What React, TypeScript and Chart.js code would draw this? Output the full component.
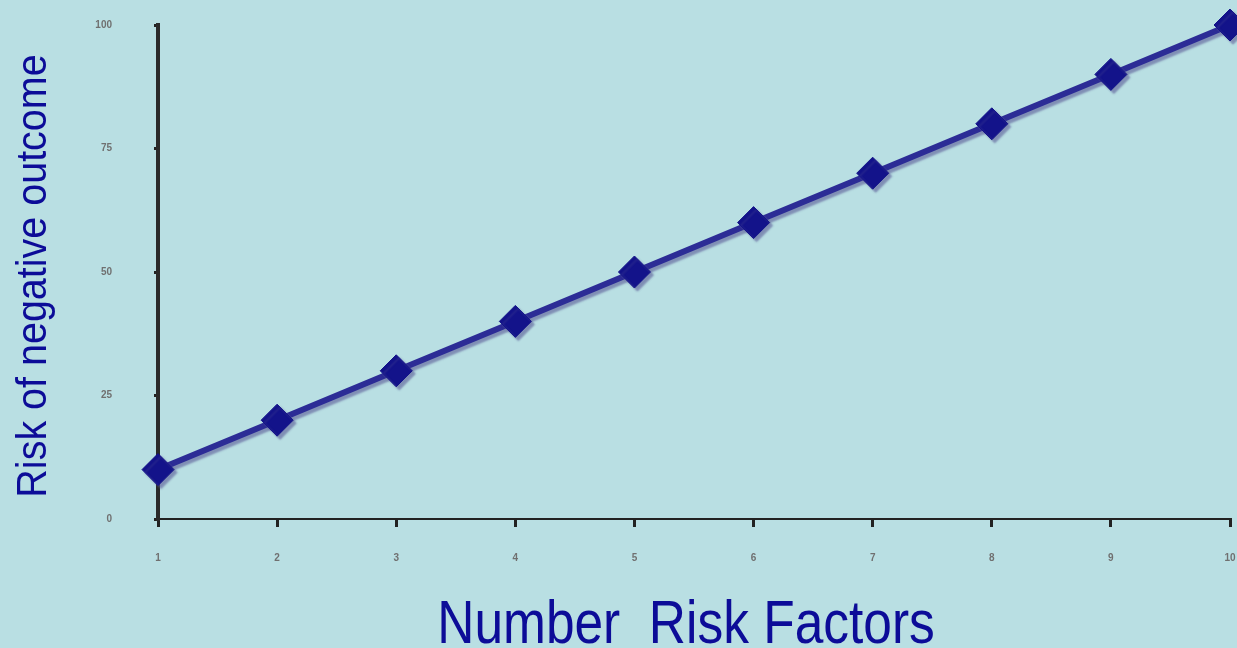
import React, { useEffect, useRef } from "react";
import { Chart, registerables } from "chart.js";

Chart.register(...registerables);

const riskFactors = ["1", "2", "3", "4", "5", "6", "7", "8", "9", "10"];
const riskValues = [10, 20, 30, 40, 50, 60, 70, 80, 90, 100];
const yTicks = [0, 25, 50, 75, 100];
const xTitle = "Number  Risk Factors";
const yTitle = "Risk of negative outcome";

const BG = "#b9dfe3";
const NAVY = "#0c0c98";
const FONT = "'Liberation Sans', Arial, sans-serif";

export default function App() {
  const ref = useRef<HTMLCanvasElement | null>(null);

  useEffect(() => {
    if (!ref.current) return;
    const bgPlugin = {
      id: "bg",
      beforeDraw(chart: any) {
        const { ctx, width, height } = chart;
        ctx.save();
        ctx.fillStyle = BG;
        ctx.fillRect(0, 0, width, height);
        ctx.restore();
      },
    };
    const shadowPlugin = {
      id: "shadow",
      beforeDatasetsDraw(chart: any) {
        const ctx = chart.ctx;
        ctx.save();
        ctx.shadowColor = "rgba(90,90,150,0.6)";
        ctx.shadowOffsetX = 3;
        ctx.shadowOffsetY = 3;
        ctx.shadowBlur = 2;
      },
      afterDatasetsDraw(chart: any) {
        chart.ctx.restore();
      },
    };
    // narrow axis titles (condensed by horizontal scaling, as in the original)
    const titlePlugin = {
      id: "narrowTitles",
      afterDraw(chart: any) {
        const { ctx, chartArea } = chart;
        ctx.save();
        ctx.fillStyle = NAVY;
        ctx.textAlign = "center";
        ctx.textBaseline = "alphabetic";
        ctx.save();
        ctx.font = `62px ${FONT}`;
        ctx.translate(686, 643);
        ctx.scale(0.83, 1);
        ctx.fillText(xTitle, 0, 0);
        ctx.restore();
        ctx.save();
        ctx.font = `42px ${FONT}`;
        ctx.translate(46, (chartArea.top + chartArea.bottom) / 2 + 4);
        ctx.rotate(-Math.PI / 2);
        ctx.scale(0.94, 1);
        ctx.fillText(yTitle, 0, 0);
        ctx.restore();
        ctx.restore();
      },
    };
    const chart = new Chart(ref.current, {
      type: "line",
      data: {
        labels: riskFactors,
        datasets: [
          {
            data: riskValues,
            borderColor: "#2c2c96",
            borderWidth: 6,
            pointStyle: "rectRot",
            pointRadius: 16,
            pointBackgroundColor: "#13138a",
            pointBorderColor: "#13138a",
            pointBorderWidth: 1,
            tension: 0,
            clip: false as any,
          },
        ],
      },
      options: {
        responsive: false,
        animation: false,
        devicePixelRatio: 1,
        layout: { padding: { top: 25, right: 0, left: 0, bottom: 0 } },
        plugins: { legend: { display: false }, tooltip: { enabled: false } },
        scales: {
          x: {
            type: "category",
            offset: false,
            afterFit(scale: any) {
              scale.height = 129;
              scale.paddingRight = 0;
              scale.paddingLeft = 0;
            },
            grid: {
              display: true,
              drawOnChartArea: false,
              drawTicks: true,
              tickLength: 8,
              tickWidth: 3,
              color: "#222",
              lineWidth: 3,
            },
            border: { display: true, color: "#222", width: 2 },
            ticks: {
              color: "#707070",
              font: { family: FONT, size: 10, weight: "bold" },
              padding: 25,
              maxRotation: 0,
              autoSkip: false,
            },
          },
          y: {
            min: 0,
            max: 100,
            afterFit(scale: any) {
              scale.width = 158;
              scale.paddingTop = 0;
              scale.paddingBottom = 0;
            },
            afterBuildTicks(scale: any) {
              scale.ticks = yTicks.map((v) => ({ value: v }));
            },
            grid: {
              display: true,
              drawOnChartArea: false,
              drawTicks: true,
              tickLength: 4,
              tickWidth: 3,
              color: "#222",
              lineWidth: 3,
            },
            border: { display: true, color: "#2a2a2a", width: 4 },
            ticks: {
              color: "#707070",
              font: { family: FONT, size: 10, weight: "bold" },
              padding: 42,
            },
          },
        },
      },
      plugins: [bgPlugin, shadowPlugin, titlePlugin],
    });
    return () => chart.destroy();
  }, []);

  return (
    <div
      style={{
        position: "fixed",
        left: 0,
        top: 0,
        width: 1237,
        height: 648,
        overflow: "hidden",
        background: BG,
      }}
    >
      <canvas ref={ref} width={1247} height={648} style={{ display: "block" }} />
    </div>
  );
}
